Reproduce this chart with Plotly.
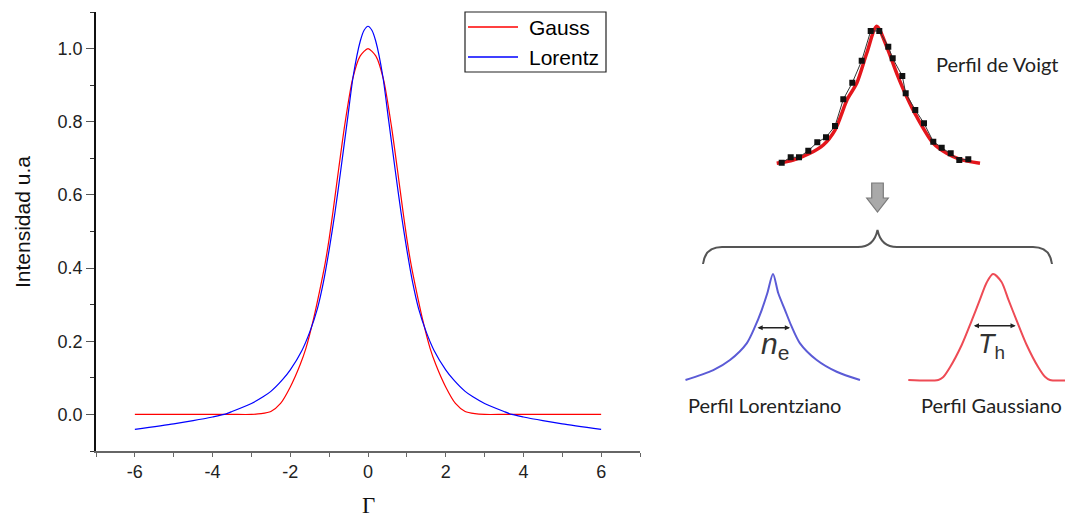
import plotly.graph_objects as go

W, H = 1073, 518
OFF = 8  # page margin of the browser around the figure

# ---------------- Left chart data ----------------
gauss_x = [-6, -5, -4, -3.5, -3, -2.75, -2.5, -2.25, -2.0, -1.75, -1.6, -1.4, -1.25, -1.1, -1.0,
           -0.9, -0.75, -0.6, -0.4, -0.2, 0.0, 0.2, 0.4, 0.6, 0.75, 0.9, 1.0, 1.1, 1.25, 1.4,
           1.6, 1.75, 2.0, 2.25, 2.5, 2.75, 3, 3.5, 4, 5, 6]
gauss_y = [0.0, 0.0, 0.0, 0.0, 0.0, 0.002, 0.008, 0.03, 0.075, 0.135, 0.18, 0.262, 0.335, 0.415,
           0.48, 0.555, 0.675, 0.79, 0.915, 0.98, 1.0, 0.98, 0.915, 0.79, 0.675, 0.555, 0.48,
           0.415, 0.335, 0.262, 0.18, 0.135, 0.075, 0.03, 0.008, 0.002, 0.0, 0.0, 0.0, 0.0, 0.0]

lor_x = [-6, -5, -4.5, -4, -3.7, -3.5, -3.0, -2.7, -2.5, -2.2, -2.0, -1.7, -1.5, -1.3, -1.15, -1.0,
         -0.85, -0.7, -0.53, -0.38, -0.2, -0.1, 0.0, 0.1, 0.2, 0.38, 0.53, 0.7, 0.85, 1.0, 1.15,
         1.3, 1.5, 1.7, 2.0, 2.2, 2.5, 2.7, 3.0, 3.5, 3.7, 4, 4.5, 5, 6]
lor_y = [-0.041, -0.026, -0.017, -0.007, 0.0, 0.008, 0.03, 0.048, 0.063, 0.095, 0.122, 0.175,
         0.225, 0.29, 0.36, 0.45, 0.552, 0.668, 0.805, 0.925, 1.02, 1.05, 1.061, 1.05, 1.02,
         0.925, 0.805, 0.668, 0.552, 0.45, 0.36, 0.29, 0.225, 0.175, 0.122, 0.095, 0.063, 0.048,
         0.03, 0.008, 0.0, -0.007, -0.017, -0.026, -0.041]

y_ticks = [0.0, 0.2, 0.4, 0.6, 0.8, 1.0]
x_ticks = [-6, -4, -2, 0, 2, 4, 6]
legend_names = ['Gauss', 'Lorentz']
legend_colors = ['#ff0000', '#0000ff']

# ---------------- Right diagram data (arbitrary units) ----------------
voigt_pts_x = [-0.943, -0.853, -0.77, -0.677, -0.587, -0.50, -0.41, -0.327, -0.237, -0.143,
               -0.053, 0.033, 0.123, 0.167, 0.263, 0.297, 0.393, 0.48, 0.573, 0.657, 0.747,
               0.833, 0.923]
voigt_pts_y = [0.004, 0.044, 0.044, 0.092, 0.153, 0.19, 0.272, 0.467, 0.588, 0.749, 0.966,
               0.966, 0.851, 0.766, 0.637, 0.511, 0.389, 0.292, 0.158, 0.114, 0.073, 0.024, 0.029]
voigt_fit_x = [-0.993, -0.827, -0.66, -0.527, -0.41, -0.287, -0.193, -0.093, 0.007, 0.107,
               0.207, 0.307, 0.407, 0.573, 0.707, 0.84, 1.04]
voigt_fit_y = [0.0, 0.024, 0.073, 0.134, 0.243, 0.467, 0.584, 0.803, 1.0, 0.851, 0.657, 0.486,
               0.34, 0.146, 0.073, 0.029, 0.0]

lprof_x = [-1.75, -1.194, -0.86, -0.526, -0.36, -0.226, -0.114, 0.0, 0.106, 0.24, 0.374, 0.54,
           0.874, 1.274, 1.74]
lprof_y = [0.0, 0.094, 0.189, 0.346, 0.503, 0.66, 0.818, 1.0, 0.818, 0.66, 0.503, 0.346,
           0.189, 0.078, 0.0]

gprof_x = [-1.694, -1.094, -1.0, -0.86, -0.626, -0.426, -0.26, -0.126, 0.0, 0.168, 0.306, 0.474,
           0.674, 0.906, 1.04, 1.14, 1.6]
gprof_y = [0.0, 0.0, 0.025, 0.12, 0.33, 0.56, 0.76, 0.92, 1.0, 0.927, 0.76, 0.56, 0.33, 0.12,
           0.03, 0.0, 0.0]


def px(x):
    return (x - OFF) / W


def py(y):
    return 1 - (y - OFF) / H


fig = go.Figure()

fig.add_trace(go.Scatter(x=gauss_x, y=gauss_y, mode='lines', name=legend_names[0], showlegend=False,
                         line=dict(color=legend_colors[0], width=1.2, shape='spline', smoothing=0.7)))
fig.add_trace(go.Scatter(x=lor_x, y=lor_y, mode='lines', name=legend_names[1], showlegend=False,
                         line=dict(color=legend_colors[1], width=1.2, shape='spline', smoothing=0.7)))

# Voigt
fig.add_trace(go.Scatter(x=voigt_fit_x, y=voigt_fit_y, xaxis='x2', yaxis='y2', mode='lines',
                         showlegend=False,
                         line=dict(color='#e4161c', width=3.5, shape='spline', smoothing=0.8)))
fig.add_trace(go.Scatter(x=voigt_pts_x, y=voigt_pts_y, xaxis='x2', yaxis='y2', mode='lines+markers',
                         showlegend=False, line=dict(color='#333333', width=1),
                         marker=dict(symbol='square', size=6, color='#111111')))
# Lorentz profile
fig.add_trace(go.Scatter(x=lprof_x, y=lprof_y, xaxis='x3', yaxis='y3', mode='lines',
                         showlegend=False,
                         line=dict(color='#5b5bd6', width=2, shape='spline', smoothing=0.8)))
# Gauss profile
fig.add_trace(go.Scatter(x=gprof_x, y=gprof_y, xaxis='x4', yaxis='y4', mode='lines',
                         showlegend=False,
                         line=dict(color='#ee4b55', width=2, shape='spline', smoothing=0.8)))

axfont = dict(family='Liberation Sans, Arial, sans-serif', size=18, color='#222222')
hidden = dict(visible=False, showgrid=False, zeroline=False, fixedrange=True)

fig.update_layout(
    width=W, height=H,
    margin=dict(l=0, r=0, t=0, b=0),
    paper_bgcolor='white', plot_bgcolor='white',
    showlegend=False,
    font=dict(family='Liberation Sans, Arial, sans-serif'),
    xaxis=dict(domain=[px(96), px(640)], range=[-7, 7], tickmode='array', tickvals=x_ticks,
               ticktext=[str(v) for v in x_ticks],
               ticks='outside', ticklen=4, tickwidth=1.3, tickcolor='#666666',
               showline=True, linecolor='#666666', linewidth=1.5, showgrid=False, zeroline=False,
               minor=dict(tickmode='linear', tick0=1, dtick=2, ticks='outside', ticklen=4,
                          tickwidth=1.3, tickcolor='#666666', showgrid=False),
               tickfont=axfont, anchor='y', fixedrange=True),
    yaxis=dict(domain=[py(451), py(12)], range=[-0.1, 1.1], tickmode='array', tickvals=y_ticks,
               ticktext=['%.1f' % v for v in y_ticks],
               ticks='outside', ticklen=8, tickwidth=1.3, tickcolor='#555555',
               showline=True, linecolor='#111111', linewidth=1.5, showgrid=False, zeroline=False,
               minor=dict(tickmode='linear', tick0=-0.1, dtick=0.2, ticks='outside', ticklen=4,
                          tickwidth=1.3, tickcolor='#333333', showgrid=False),
               tickfont=axfont, anchor='x', fixedrange=True),
    xaxis2=dict(domain=[px(766), px(986)], range=[-1.1, 1.1], anchor='y2', **hidden),
    yaxis2=dict(domain=[py(177), py(19.45)], range=[-0.1, 1.05], anchor='x2', **hidden),
    xaxis3=dict(domain=[px(683), px(863)], range=[-1.8, 1.8], anchor='y3', **hidden),
    yaxis3=dict(domain=[py(390.6), py(263.4)], range=[-0.1, 1.1], anchor='x3', **hidden),
    xaxis4=dict(domain=[px(903), px(1073)], range=[-1.8, 1.6], anchor='y4', **hidden),
    yaxis4=dict(domain=[py(390.6), py(263.4)], range=[-0.1, 1.1], anchor='x4', **hidden),
)

txtfont = dict(family='Lato, Open Sans, sans-serif', size=20, color='#222222')
legfont = dict(family='Liberation Sans, Arial, sans-serif', size=21, color='#000000')


def note(text, x, y, font, **kw):
    d = dict(text=text, x=px(x), y=py(y), xref='paper', yref='paper', showarrow=False,
             xanchor='center', yanchor='middle', font=font)
    d.update(kw)
    return d


annotations = [
    note('Intensidad u.a', 22, 222,
         dict(family='Liberation Sans, Arial, sans-serif', size=21, color='#111111'), textangle=-90),
    note('Γ', 368, 505, dict(family='Liberation Serif, Times New Roman, serif', size=23,
                             color='#111111')),
    note('Perfil de Voigt', 997, 64, txtfont),
    note('Perfil Lorentziano', 764, 405, txtfont),
    note('Perfil Gaussiano', 991, 405, txtfont),
    note(legend_names[0], 527, 27, legfont, xanchor='left'),
    note(legend_names[1], 527, 57, legfont, xanchor='left'),
    # width arrows
    dict(x=0.34, y=0.493, ax=-0.34, ay=0.493, xref='x3', yref='y3', axref='x3', ayref='y3',
         text='', showarrow=True, arrowhead=2, arrowside='end+start', arrowsize=0.8,
         arrowwidth=1.3, arrowcolor='#222222'),
    dict(x=0.454, y=0.512, ax=-0.414, ay=0.512, xref='x4', yref='y4', axref='x4', ayref='y4',
         text='', showarrow=True, arrowhead=2, arrowside='end+start', arrowsize=0.8,
         arrowwidth=1.3, arrowcolor='#222222'),
    dict(text='<i>n</i><sub>e</sub>', x=0.03, y=0.33, xref='x3', yref='y3', showarrow=False,
         xanchor='center', yanchor='middle',
         font=dict(family='Liberation Sans, Arial, sans-serif', size=30, color='#333333')),
    dict(text='<i>T</i><sub>h</sub>', x=-0.04, y=0.32, xref='x4', yref='y4', showarrow=False,
         xanchor='center', yanchor='middle',
         font=dict(family='Liberation Sans, Arial, sans-serif', size=27, color='#333333')),
]
fig.update_layout(annotations=annotations)

# Block arrow (decorative)
ax_pts = [(871.7, 183), (883.3, 183), (883.3, 198), (888.3, 198), (877.5, 212), (866.7, 198),
          (871.7, 198)]
arrow_path = 'M ' + ' L '.join('%.5f,%.5f' % (px(a), py(b)) for a, b in ax_pts) + ' Z'


def P(a, b):
    return '%.5f,%.5f' % (px(a), py(b))


# Curly brace (decorative)
brace_path = ('M ' + P(703, 264) + ' Q ' + P(705, 247) + ' ' + P(722, 247) +
              ' L ' + P(858, 247) + ' Q ' + P(874, 247) + ' ' + P(877.5, 230) +
              ' Q ' + P(881, 247) + ' ' + P(897, 247) + ' L ' + P(1033, 247) +
              ' Q ' + P(1050, 247) + ' ' + P(1052, 264))

shapes = [
    dict(type='path', path=arrow_path, xref='paper', yref='paper', fillcolor='#a9a9a9',
         line=dict(color='#7a7a7a', width=1.2)),
    dict(type='path', path=brace_path, xref='paper', yref='paper',
         line=dict(color='#555555', width=2)),
    # legend box and samples
    dict(type='rect', x0=px(465), x1=px(606), y0=py(72), y1=py(12), xref='paper', yref='paper',
         line=dict(color='#222222', width=1.2), fillcolor='white', layer='above'),
    dict(type='line', x0=px(468), x1=px(518), y0=py(27), y1=py(27), xref='paper', yref='paper',
         line=dict(color=legend_colors[0], width=1.5), layer='above'),
    dict(type='line', x0=px(468), x1=px(518), y0=py(57), y1=py(57), xref='paper', yref='paper',
         line=dict(color=legend_colors[1], width=1.5), layer='above'),
]
fig.update_layout(shapes=shapes)

fig.write_html('out.html')
